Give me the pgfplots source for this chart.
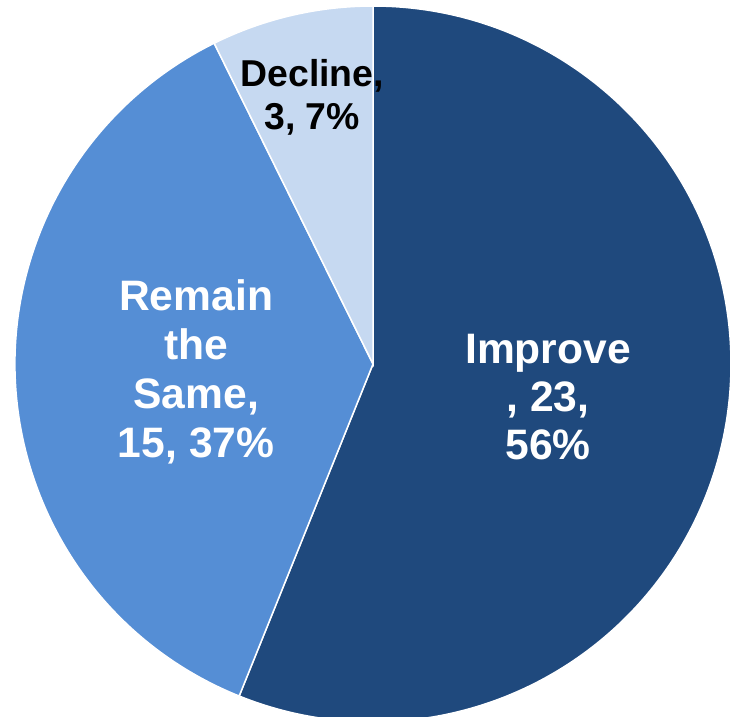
\documentclass[border=0pt]{standalone}
\usepackage{fontspec}
\setmainfont{Liberation Sans}
\usepackage{pgfplots}
\usepackage{pgfplotstable}
\pgfplotsset{compat=1.18}

\definecolor{cImprove}{HTML}{1F497D}
\definecolor{cSame}{HTML}{558ED5}
\definecolor{cDecline}{HTML}{C6D9F1}

\pgfplotstableread{
label value
Improve 23
Same 15
Decline 3
}\piedata

\begin{document}
\begin{tikzpicture}
% slice angles from the counts, clockwise from 12 o'clock
\pgfplotstablegetelem{0}{value}\of\piedata \let\vA\pgfplotsretval
\pgfplotstablegetelem{1}{value}\of\piedata \let\vB\pgfplotsretval
\pgfplotstablegetelem{2}{value}\of\piedata \let\vC\pgfplotsretval
\pgfmathsetmacro\tot{\vA+\vB+\vC}
\pgfmathsetmacro\aA{90-360*\vA/\tot}
\pgfmathsetmacro\aB{\aA-360*\vB/\tot}
\pgfmathsetmacro\aC{\aB-360*\vC/\tot}
\pgfmathsetmacro\xA{cos(\aA)}
\pgfmathsetmacro\yA{sin(\aA)}
\pgfmathsetmacro\xB{cos(\aB)}
\pgfmathsetmacro\yB{sin(\aB)}
\begin{axis}[
	width=365pt, height=358.5pt,
	scale only axis,
	hide axis,
	xmin=-1.0419, xmax=0.9972,
	ymin=-0.986, ymax=1.0168,
	clip=true,
]
\fill[cImprove, draw=white, line width=0.75pt]
	(axis cs:0,0) -- (axis cs:0,1) arc[start angle=90, end angle=\aA, radius=1] -- cycle;
\fill[cSame, draw=white, line width=0.75pt]
	(axis cs:0,0) -- (axis cs:\xA,\yA) arc[start angle=\aA, end angle=\aB, radius=1] -- cycle;
\fill[cDecline, draw=white, line width=0.75pt]
	(axis cs:0,0) -- (axis cs:\xB,\yB) arc[start angle=\aB, end angle=\aC, radius=1] -- cycle;

\node[white, align=center, font=\bfseries\fontsize{21.3}{24}\selectfont]
	at (axis cs:0.489,-0.092) {Improve\\, 23,\\56\%};
\node[white, align=center, font=\bfseries\fontsize{21.3}{24.6}\selectfont]
	at (axis cs:-0.494,-0.022) {Remain\\the\\Same,\\15, 37\%};
\node[black, align=center, font=\bfseries\fontsize{18.7}{21.5}\selectfont]
	at (axis cs:-0.170,0.745) {Decline,\\3, 7\%};
\end{axis}
\pgfresetboundingbox
\path (current axis.south west) rectangle (current axis.north east);
\end{tikzpicture}
\end{document}
